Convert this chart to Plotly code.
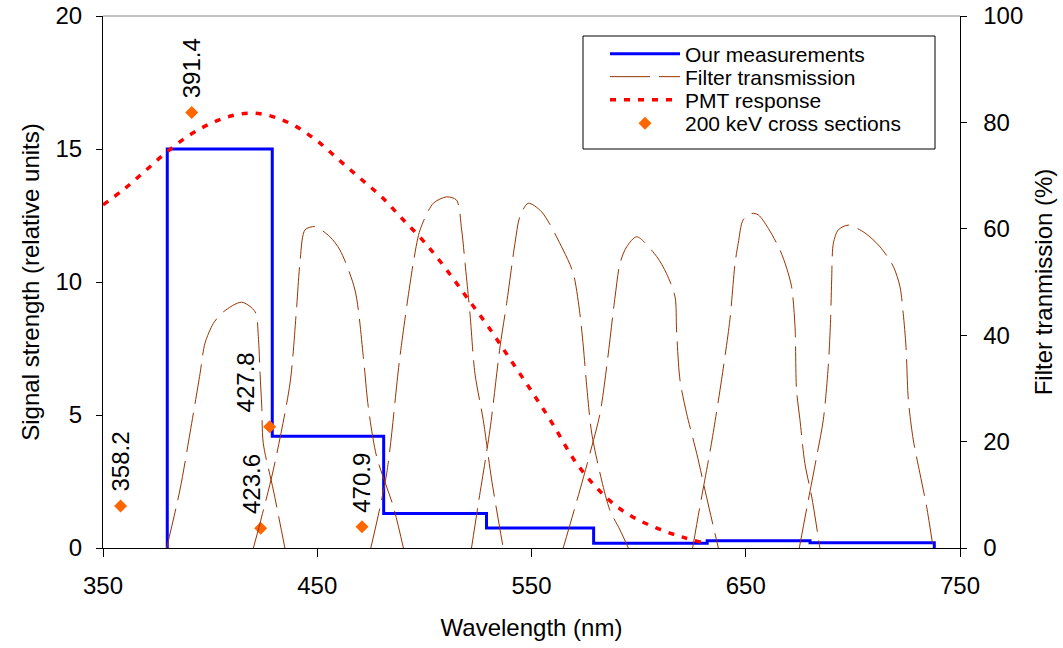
import plotly.graph_objects as go

# ---------------- data ----------------
# Our measurements (step edges in nm, level per band)
meas_x = [380, 380, 429, 481, 529, 579, 632, 680, 738, 738]
meas_y = [0, 15, 4.2, 1.3, 0.75, 0.18, 0.27, 0.2, 0.2, 0]

# PMT response (relative units, left axis)
pmt_x = [350, 360, 370, 380, 390, 400, 410, 420, 430, 440, 450, 460, 470, 480, 490,
         500, 510, 520, 530, 540, 550, 560, 570, 580, 590, 600, 610, 620, 630]
pmt_y = [12.9, 13.5, 14.2, 14.9, 15.5, 15.95, 16.25, 16.35, 16.2, 15.85, 15.3, 14.6, 13.9, 13.2, 12.35,
         11.5, 10.5, 9.4, 8.3, 7.1, 5.9, 4.65, 3.3, 2.3, 1.55, 1.05, 0.7, 0.42, 0.2]

# Filter transmission curves (%, right axis)
f1_x = [379.7, 385.9, 390.6, 395.3, 397.6, 401.5, 406.2, 414.7, 421, 422.5, 423.3, 424.1, 424.8, 429.5, 434.9]
f1_y = [0, 10.9, 21.6, 32.8, 38.5, 42.2, 44.4, 46.2, 44.4, 39.7, 32.8, 26.6, 19.7, 10.9, 0]
f2_x = [420.2, 423.3, 429.5, 437.3, 440.4, 441.9, 444.3, 448.9, 455.9, 460.6, 467.6, 471.5, 473.8, 477.7, 485.5, 490.2]
f2_y = [0, 4.7, 14.7, 31, 45.4, 53.5, 59.8, 60.4, 58.5, 56, 48.5, 36, 26.6, 17.2, 7.8, 0]
f3_x = [475, 482.4, 488.6, 494.8, 498, 504.2, 510.4, 515, 517.4, 519, 521.3, 523.6, 527.5, 531.4, 536.8]
f3_y = [0, 14, 36, 53.5, 59.8, 64.8, 66, 65.4, 59.8, 53.5, 44, 32.8, 24, 12.8, 0]
f4_x = [522, 525.2, 530.6, 535.3, 538.4, 542.3, 544.6, 548.5, 554.7, 564.8, 569.5, 572.6, 574.2, 575.8,
        578.1, 582.7, 586.6, 591.3, 595.2]
f4_y = [0, 8.4, 22.2, 37.8, 46, 57.3, 62.3, 64.8, 63.2, 56, 51.6, 44, 37.8, 30.3, 21.6, 12.8, 7.1, 3.4, 0]
f5_x = [564.8, 572.6, 578.1, 582, 585.1, 589, 591.3, 594.4, 599.1, 608.4, 613, 617, 617.7, 619.3,
        622.4, 627.1, 631.7, 637.2]
f5_y = [0, 10.9, 19, 25.3, 34.1, 47.2, 53.5, 56.6, 58.5, 54.8, 51.6, 47.2, 41, 31.6, 25.3, 17.8, 9.6, 0]
f6_x = [625.2, 628.6, 634, 638.7, 642.6, 645, 646.5, 648.8, 652.8, 655.9, 660.5, 666, 669.1, 671.4,
        673, 673.7, 675.3, 677.6, 680.8, 684.6]
f6_y = [0, 7.8, 19.7, 31.6, 42.9, 53.5, 57.3, 61.7, 62.9, 62.6, 60.1, 56, 52.6, 49.1, 41.6, 29.7,
        24.1, 15.9, 9.6, 0]
f7_x = [675, 679.2, 683.1, 686.2, 688.5, 689.6, 690.1, 690.9, 693.2, 697.9, 705.7, 712.7, 718.9, 722,
        723.5, 724.8, 725.9, 728.2, 731.3, 734.4, 737.5]
f7_y = [0, 9, 17.2, 24.1, 34.1, 42.9, 50.4, 57.3, 59.8, 60.7, 59.2, 56.6, 52.9, 49.1, 44.1, 37.8,
        27.8, 20.3, 14, 7.8, 0]
filters = [(f1_x, f1_y), (f2_x, f2_y), (f3_x, f3_y), (f4_x, f4_y), (f5_x, f5_y), (f6_x, f6_y), (f7_x, f7_y)]

# 200 keV cross sections
cs_x = [358.2, 391.4, 423.6, 427.8, 470.9]
cs_y = [1.58, 16.37, 0.74, 4.56, 0.8]
cs_labels = ["358.2", "391.4", "423.6", "427.8", "470.9"]
cs_label_dx = [0, 0, -9, -24, 0]   # label pixel offsets (styling)

# ---------------- figure ----------------
FONT = "Liberation Sans, Arial, sans-serif"
fig = go.Figure()

fig.add_trace(go.Scatter(x=meas_x, y=meas_y, mode="lines", line_shape="hv",
                         line=dict(color="#0000FF", width=3),
                         name="Our measurements", yaxis="y", legend="legend"))

for i, (fx, fy) in enumerate(filters):
    fig.add_trace(go.Scatter(x=fx, y=fy, mode="lines", line_shape="spline",
                             line=dict(color="#993300", width=1, dash="40px,9px", smoothing=0.8),
                             name="Filter transmission", legendgroup="filt",
                             showlegend=(i == 0), yaxis="y2", legend="legend2"))

fig.add_trace(go.Scatter(x=pmt_x, y=pmt_y, mode="lines", line_shape="spline",
                         line=dict(color="#FF0000", width=3.5, dash="6px,8px"),
                         name="PMT response", yaxis="y", legend="legend3"))

fig.add_trace(go.Scatter(x=cs_x, y=cs_y, mode="markers",
                         marker=dict(symbol="diamond", size=10, color="#FF6600"),
                         name="200 keV cross sections", yaxis="y", legend="legend4"))

for xv, yv, lab, dx in zip(cs_x, cs_y, cs_labels, cs_label_dx):
    fig.add_annotation(x=xv, y=yv, xref="x", yref="y", text=lab, showarrow=False,
                       textangle=-90, yanchor="bottom", xanchor="center",
                       yshift=12, xshift=dx, font=dict(family=FONT, size=24, color="black"))

W, H = 1063, 648
# plot-area geometry (page px)
PL, PR, PT, PB = 103, 960, 16, 548
PW, PH = PR - PL, PB - PT

# plot-area top border and legend box
fig.add_shape(type="line", xref="paper", yref="paper", x0=0, x1=1, y0=1, y1=1,
              line=dict(color="#888888", width=1))
fig.add_shape(type="rect", xref="paper", yref="paper",
              x0=(583 - PL) / PW, x1=(935 - PL) / PW,
              y0=(PB - 149) / PH, y1=(PB - 36) / PH,
              line=dict(color="black", width=1), fillcolor="rgba(0,0,0,0)")

axis_common = dict(showgrid=False, zeroline=False, showline=True, linecolor="black",
                   linewidth=1, ticks="outside", tickcolor="black", automargin=False,
                   ticklabeloverflow="allow",
                   tickfont=dict(family=FONT, size=24, color="black"))

legend_rows = [54, 77, 100, 123.5]
legend_common = dict(xanchor="left", yanchor="middle", bgcolor="rgba(0,0,0,0)", borderwidth=0,
                     font=dict(family=FONT, size=21, color="black"), itemwidth=70)
lx = (605 - PL) / PW

fig.update_layout(
    width=W, height=H,
    margin=dict(l=PL, r=W - PR, t=PT, b=H - PB, autoexpand=False),
    paper_bgcolor="white", plot_bgcolor="white",
    font=dict(family=FONT, color="black"),
    xaxis=dict(range=[350, 750], tick0=350, dtick=100, ticklen=8,
               title=dict(text="Wavelength (nm)", font=dict(family=FONT, size=24), standoff=21),
               ticklabelstandoff=8, **axis_common),
    yaxis=dict(range=[0, 20], dtick=5, ticklen=6, side="left",
               title=dict(text="Signal strength (relative units)", font=dict(family=FONT, size=24), standoff=9),
               ticklabelstandoff=9, **axis_common),
    yaxis2=dict(range=[0, 100], dtick=20, ticklen=6, side="right", overlaying="y", anchor="x",
                tickprefix="\u00a0\u2009",
                title=dict(text="Filter tranmission (%)", font=dict(family=FONT, size=24), standoff=12),
                **axis_common),
    legend=dict(x=lx, y=(PB - legend_rows[0]) / PH, **legend_common),
    legend2=dict(x=lx, y=(PB - legend_rows[1]) / PH, **legend_common),
    legend3=dict(x=lx, y=(PB - legend_rows[2]) / PH, **legend_common),
    legend4=dict(x=lx, y=(PB - legend_rows[3]) / PH, **legend_common),
    showlegend=True,
)

# remove the default page margin so the figure fills the 1063x648 window exactly
fig.write_html("out.html", config={"displayModeBar": False},
               post_script="document.body.style.margin='0px';document.body.style.overflow='hidden';")
